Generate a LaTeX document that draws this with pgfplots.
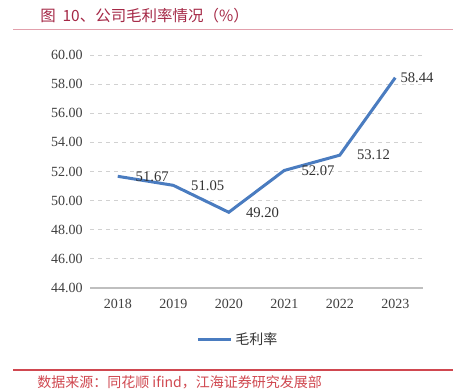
\documentclass[border=0pt]{standalone}
\usepackage{pgfplots}
\pgfplotsset{compat=1.18}
\usepackage{pgfplotstable}
\usepackage{fontspec}
\setmainfont{Liberation Serif}
\newfontfamily\cjk{Noto Sans CJK SC}
\definecolor{lineblue}{RGB}{74,124,192}
\definecolor{titlered}{RGB}{165,40,70}
\definecolor{pinkline}{RGB}{226,160,172}
\definecolor{srcred}{RGB}{208,72,80}
\pgfplotstableread{
x y dx
0 51.67 9
1 51.05 9
2 49.20 8.5
3 52.07 8.5
4 53.12 8.5
5 58.44 -0.5
}\gmdata
\begin{document}
\begin{tikzpicture}
\begin{scope}[shift={(0,293.25pt)}, x=0.75pt, y=-0.75pt]
\useasboundingbox (0,0) rectangle (471,391);
\fill[white] (0,0) rectangle (471,391);
\node[anchor=west, text=titlered, font=\cjk\fontsize{11.6}{13}\selectfont, inner sep=0] at (40,16) {图\ \ 10、公司毛利率情况（\%）};
\draw[pinkline, line width=1.2pt] (13,29.5) -- (453,29.5);
\draw[srcred, line width=1pt] (13,370) -- (453,370);
\node[anchor=west, text=srcred, font=\cjk\fontsize{10.5}{13}\selectfont, inner sep=0] at (37,382) {数据来源：同花顺 ifind，江海证券研究发展部};
\end{scope}
\begin{axis}[
  at={(67.5pt,77.25pt)}, anchor=south west,
  scale only axis, width=249.75pt, height=174.75pt,
  xmin=-0.5, xmax=5.5, ymin=44, ymax=60,
  ytick={44,46,...,60},
  xtick={0,1,2,3,4,5},
  xticklabels={2018,2019,2020,2021,2022,2023},
  axis x line*=bottom, axis y line*=left,
  y axis line style={draw=none},
  x axis line style={draw=black!25, line width=0.8pt},
  major tick length=0pt,
  ymajorgrids, grid style={dashed, black!18, line width=0.6pt},
  /pgf/number format/assume math mode=true,
  tick label style={font=\fontsize{10.5}{12}\selectfont, text=black!75},
  yticklabel style={/pgf/number format/fixed, /pgf/number format/fixed zerofill, /pgf/number format/precision=2, xshift=-2pt},
  xticklabel style={yshift=-5pt},
  legend style={at={(0.445,-0.223)}, anchor=center, draw=none, font=\cjk\fontsize{10.5}{12}\selectfont, text=black!80},
  legend image code/.code={\draw[#1] (0pt,0pt) -- (25pt,0pt);},
  clip=false,
]
\addplot[lineblue, line width=2.25pt, mark=none,
  point meta=y,
  visualization depends on={\thisrow{dx} \as \dx},
  nodes near coords,
  every node near coord/.append style={anchor=west, xshift=\dx pt, font=\fontsize{11}{13}\selectfont, text=black!80,
    /pgf/number format/fixed, /pgf/number format/fixed zerofill, /pgf/number format/precision=2},
] table[x=x, y=y] {\gmdata};
\addlegendentry{毛利率}
\end{axis}
\end{tikzpicture}
\end{document}
